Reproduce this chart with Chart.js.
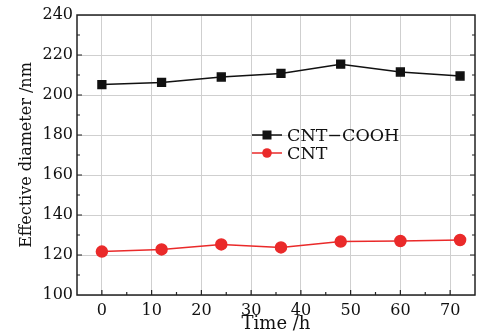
<!DOCTYPE html>
<html><head><meta charset="utf-8">
<script src="https://cdn.jsdelivr.net/npm/chart.js@4.4.0/dist/chart.umd.min.js"></script>
<style>html,body{margin:0;padding:0;background:#fff}#wrap{width:485px;height:335px}</style>
</head><body><div id="wrap"><canvas id="c" width="485" height="335"></canvas></div>
<script>
const times = [0, 12, 24, 36, 48, 60, 72];
const cnoCooh = [205.2, 206.3, 209.0, 210.8, 215.4, 211.5, 209.5];
const cnt = [121.7, 122.8, 125.3, 123.8, 126.7, 127.0, 127.5];
const xTicks = [0, 10, 20, 30, 40, 50, 60, 70];
const yTicks = [100, 120, 140, 160, 180, 200, 220, 240];
const seriesNames = ['CNT\u2212COOH', 'CNT'];

const FONT = 'DejaVu Serif';
const toXY = (xs, ys) => xs.map((x, i) => ({x, y: ys[i]}));

const frame = {
  id: 'frame',
  afterDatasetsDraw(chart) {
    const {ctx, chartArea: a, scales: {x, y}} = chart;
    ctx.save();
    ctx.strokeStyle = '#222'; ctx.lineWidth = 1.5;
    ctx.strokeRect(a.left, a.top, a.right - a.left, a.bottom - a.top);
    ctx.lineWidth = 1.2;
    ctx.beginPath();
    for (let v = -5; v <= 75; v += 5) {
      const px = x.getPixelForValue(v);
      if (px <= a.left + 1 || px >= a.right - 1) continue;
      const len = (v % 10 === 0) ? 5 : 3;
      ctx.moveTo(px, a.bottom); ctx.lineTo(px, a.bottom - len);
    }
    for (let v = 100; v <= 240; v += 10) {
      const py = y.getPixelForValue(v);
      if (py <= a.top + 1 || py >= a.bottom - 1) continue;
      const len = (v % 20 === 0) ? 5 : 3;
      ctx.moveTo(a.left, py); ctx.lineTo(a.left + len, py);
      ctx.moveTo(a.right, py); ctx.lineTo(a.right - len, py);
    }
    ctx.stroke();
    // legend
    const lx = 252, ly0 = 135, dy = 18;
    chart.data.datasets.forEach((ds, i) => {
      const yy = ly0 + i * dy;
      ctx.strokeStyle = ds.borderColor; ctx.lineWidth = 1.5;
      ctx.beginPath(); ctx.moveTo(lx, yy); ctx.lineTo(lx + 30, yy); ctx.stroke();
      ctx.fillStyle = ds.pointBackgroundColor;
      if (ds.pointStyle === 'rect') { ctx.fillRect(lx + 15 - 4.5, yy - 4.5, 9, 9); }
      else { ctx.beginPath(); ctx.arc(lx + 15, yy, 4.8, 0, Math.PI * 2); ctx.fill(); }
      ctx.fillStyle = '#111'; ctx.font = '17.5px "' + FONT + '"';
      ctx.textBaseline = 'middle'; ctx.textAlign = 'left';
      ctx.fillText(ds.label, lx + 35, yy + 1);
    });
    ctx.restore();
  }
};

new Chart(document.getElementById('c'), {
  type: 'scatter',
  data: {
    datasets: [
      {label: seriesNames[0], data: toXY(times, cnoCooh), showLine: true,
       borderColor: '#111', backgroundColor: '#111', pointBackgroundColor: '#111',
       pointBorderColor: '#111', pointStyle: 'rect', pointRadius: 5.5, borderWidth: 1.5},
      {label: seriesNames[1], data: toXY(times, cnt), showLine: true,
       borderColor: '#ea2a2a', backgroundColor: '#ea2a2a', pointBackgroundColor: '#ea2a2a',
       pointBorderColor: '#ea2a2a', pointStyle: 'circle', pointRadius: 5.5, borderWidth: 1.5}
    ]
  },
  options: {
    responsive: false, animation: false,
    layout: {padding: {top: 15, right: 10, left: 0, bottom: 0}},
    plugins: {legend: {display: false}, tooltip: {enabled: false}},
    scales: {
      x: {
        type: 'linear', min: -5, max: 75,
        afterBuildTicks: s => { s.ticks = xTicks.map(v => ({value: v})); },
        afterFit: s => { s.height = 40; },
        grid: {color: '#cfcfcf', borderDash: [2, 2], drawTicks: false},
        border: {display: false},
        ticks: {font: {family: FONT, size: 16}, color: '#111', padding: 6, maxRotation: 0},
        title: {display: true, text: 'Time /h', font: {family: FONT, size: 18}, color: '#111', padding: {top: 2, bottom: 0}}
      },
      y: {
        min: 100, max: 240,
        afterBuildTicks: s => { s.ticks = yTicks.map(v => ({value: v})); },
        afterFit: s => { s.width = 77; },
        grid: {color: '#cfcfcf', borderDash: [2, 2], drawTicks: false},
        border: {display: false},
        ticks: {font: {family: FONT, size: 16}, color: '#111', padding: 4},
        title: {display: true, text: 'Effective diameter /nm', font: {family: FONT, size: 16}, color: '#111', padding: {top: 17, bottom: 0}}
      }
    }
  },
  plugins: [frame]
});
</script></body></html>
